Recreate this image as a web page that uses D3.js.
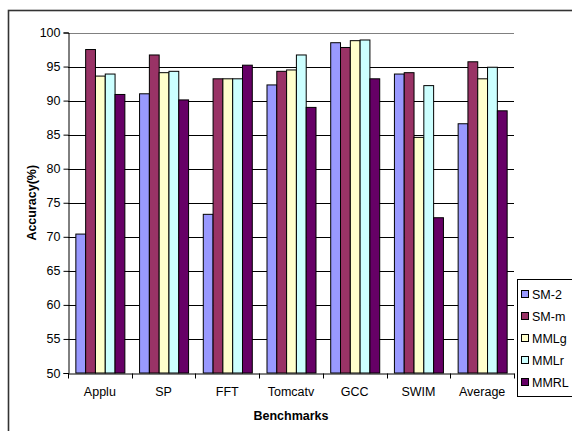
<!DOCTYPE html>
<html>
<head>
<meta charset="utf-8">
<script src="https://cdn.jsdelivr.net/npm/d3@7"></script>
<style>
html,body{margin:0;padding:0;background:#fff;overflow:hidden;}
svg{display:block;font-family:Arial,"Liberation Sans",sans-serif;}
</style>
</head>
<body>
<svg id="chart" width="572" height="431"></svg>
<script>
const categories = ["Applu","SP","FFT","Tomcatv","GCC","SWIM","Average"];
const seriesNames = ["SM-2","SM-m","MMLg","MMLr","MMRL"];
const seriesColors = ["#9999FF","#993366","#FFFFCC","#CCFFFF","#660066"];
const sm2  = [70.4, 91.0, 73.3, 92.3, 98.5, 93.9, 86.6];
const smm  = [97.5, 96.7, 93.2, 94.3, 97.8, 94.1, 95.7];
const mmlg = [93.6, 94.1, 93.2, 94.5, 98.8, 84.6, 93.2];
const mmlr = [93.9, 94.3, 93.2, 96.7, 98.9, 92.2, 94.9];
const mmrl = [90.9, 90.1, 95.2, 89.0, 93.2, 72.8, 88.5];
const seriesValues = [sm2, smm, mmlg, mmlr, mmrl];
const yTicks = [50,55,60,65,70,75,80,85,90,95,100];

const svg = d3.select("#chart");
const pLeft = 68, pRight = 514, pTop = 32.5, pBottom = 373;

// outer chart border
svg.append("rect").attr("x",8.5).attr("y",10.5).attr("width",600).attr("height",460)
  .attr("fill","none").attr("stroke","#333").attr("stroke-width",1.6);

const x = d3.scaleBand().domain(categories).range([pLeft,pRight]).paddingInner(0).paddingOuter(0);
const inner = d3.scaleBand().domain(d3.range(seriesNames.length))
  .range([0,x.bandwidth()]).paddingInner(0).paddingOuter(0.75);
const y = d3.scaleLinear().domain([50,100]).range([pBottom,pTop]);

// gridlines
svg.append("g").selectAll("line").data(yTicks.filter(t=>t>50)).join("line")
  .attr("x1",pLeft).attr("x2",pRight)
  .attr("y1",d=>Math.round(y(d))+0.5).attr("y2",d=>Math.round(y(d))+0.5)
  .attr("stroke",d=>d===100?"#808080":"#000").attr("stroke-width",1);

// bars
const groups = svg.append("g").selectAll("g").data(categories).join("g")
  .attr("transform",d=>`translate(${x(d)},0)`);
groups.selectAll("rect").data((c,i)=>seriesValues.map((vals,s)=>({s,v:vals[i]}))).join("rect")
  .attr("x",d=>inner(d.s)+0.5)
  .attr("y",d=>y(d.v))
  .attr("width",inner.bandwidth())
  .attr("height",d=>y(50)-y(d.v))
  .attr("fill",d=>seriesColors[d.s])
  .attr("stroke","#000").attr("stroke-width",1);

// y axis
const yAxis = d3.axisLeft(y).tickValues(yTicks).tickSize(5).tickPadding(3).tickFormat(d3.format("d"));
const gy = svg.append("g").attr("transform",`translate(${pLeft+0.5},0)`).call(yAxis);
gy.select(".domain").attr("stroke","#000");
gy.selectAll(".tick line").attr("stroke","#000");
gy.selectAll("text").attr("font-size",12.5).attr("fill","#000")
  .attr("font-family",'Arial,"Liberation Sans",sans-serif');

// x axis
const xAxis = d3.axisBottom(x).tickSize(0).tickPadding(14);
const gx = svg.append("g").attr("transform",`translate(0,${pBottom+0.5})`).call(xAxis);
gx.select(".domain").attr("stroke","#000");
gx.selectAll("text").attr("font-size",12.5).attr("fill","#000")
  .attr("font-family",'Arial,"Liberation Sans",sans-serif');
// category boundary ticks
gx.append("g").selectAll("line").data(categories.concat([null])).join("line")
  .attr("x1",(d,i)=>Math.round(pLeft + i*x.step())+0.5)
  .attr("x2",(d,i)=>Math.round(pLeft + i*x.step())+0.5)
  .attr("y1",0).attr("y2",5).attr("stroke","#000");

// axis titles
svg.append("text").attr("x",(pLeft+pRight)/2).attr("y",420)
  .attr("text-anchor","middle").attr("font-size",12.5).attr("font-weight","bold")
  .text("Benchmarks");
svg.append("text").attr("transform",`translate(36,${(pTop+pBottom)/2}) rotate(-90)`)
  .attr("text-anchor","middle").attr("font-size",12.5).attr("font-weight","bold")
  .text("Accuracy(%)");

// legend
const lg = svg.append("g");
lg.append("rect").attr("x",517.5).attr("y",279.5).attr("width",80).attr("height",117)
  .attr("fill","#fff").attr("stroke","#000").attr("stroke-width",1);
const items = lg.selectAll("g.item").data(seriesNames).join("g").attr("class","item")
  .attr("transform",(d,i)=>`translate(0,${294 + i*22})`);
items.append("rect").attr("x",521.5).attr("y",-3.5).attr("width",7).attr("height",7)
  .attr("fill",(d,i)=>seriesColors[i]).attr("stroke","#000");
items.append("text").attr("x",532).attr("y",4.5).attr("font-size",12.5).text(d=>d);
</script>
</body>
</html>
